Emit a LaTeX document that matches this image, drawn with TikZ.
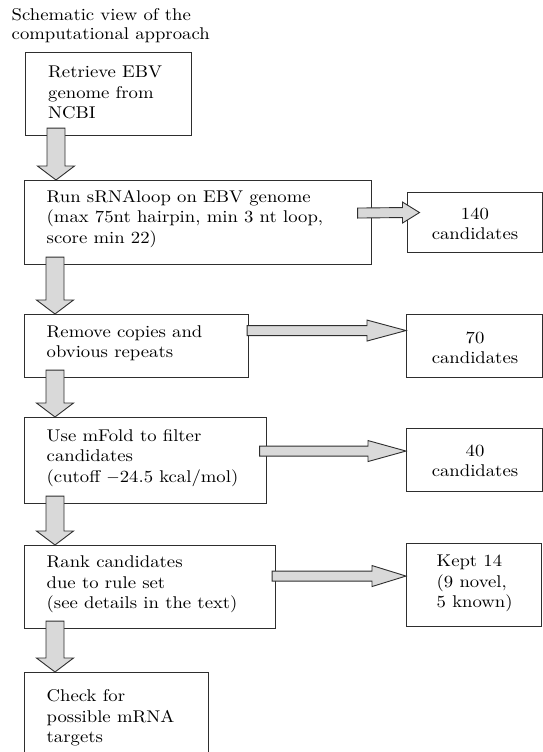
\documentclass[tikz,border=0pt]{standalone}
\usepackage{fontspec}
\setmainfont{lmroman10-regular.otf}[FakeStretch=1.1]
\usetikzlibrary{calc}
\definecolor{arrowfill}{HTML}{D9D9D9}
\definecolor{edgecol}{HTML}{2E2E2E}
\newcommand\fsz{\fontsize{17}{20.5}\selectfont}
\tikzset{
  box/.style={draw=edgecol, line width=1.1pt, inner sep=0pt, anchor=north west},
  txt/.style={inner sep=0pt, align=left, anchor=west, font=\fsz},
  ctxt/.style={inner sep=0pt, align=center, font=\fsz},
  blk/.style={draw=edgecol, fill=arrowfill, line width=0.9pt, line join=miter},
}
% down block arrow: #1 start (shaft top centre), #2 tip
\newcommand\dnblock[2]{%
  \draw[blk] ($(#1)+(-9,0)$) -- ($(#2)+(-9,-14)$) -- ($(#2)+(-18.5,-14)$) -- (#2)
    -- ($(#2)+(18.5,-14)$) -- ($(#2)+(9,-14)$) -- ($(#1)+(9,0)$) -- cycle;}
% right block arrow: #1 start (shaft left centre), #2 tip, #3 head length
\newcommand\rtblock[3]{%
  \draw[blk] ($(#1)+(0,-5)$) -- ($(#2)+(-#3,-5)$) -- ($(#2)+(-#3,-10.5)$) -- (#2)
    -- ($(#2)+(-#3,10.5)$) -- ($(#2)+(-#3,5)$) -- ($(#1)+(0,5)$) -- cycle;}
\begin{document}
\begin{tikzpicture}[x=1pt,y=-1pt]
\useasboundingbox (0,0) rectangle (543,752);
\clip (0,0) rectangle (543,752);
% title
\node[inner sep=0pt, align=left, anchor=west, font=\fontsize{17}{19}\selectfont] (title) at (11.5,25.5)
  {Schematic view of the\\computational approach};
% left boxes
\node[box, minimum width=166pt, minimum height=83pt] (b1) at (25,52) {};
\node[box, minimum width=346.5pt, minimum height=84pt] (b2) at (24,180) {};
\node[box, minimum width=224pt, minimum height=63pt] (b3) at (24,314) {};
\node[box, minimum width=242pt, minimum height=86pt] (b4) at (24,417) {};
\node[box, minimum width=251pt, minimum height=83pt] (b5) at (24,545) {};
\node[box, minimum width=183.5pt, minimum height=100pt] (b6) at (24,672) {};
% right boxes
\node[box, minimum width=135pt, minimum height=60pt] (r1) at (406.5,191.5) {};
\node[box, minimum width=135.5pt, minimum height=63.5pt] (r2) at (406,313.5) {};
\node[box, minimum width=135.5pt, minimum height=62.5pt] (r3) at (406,428) {};
\node[box, minimum width=135pt, minimum height=83pt] (r4) at (406,543) {};
% texts
\node[txt] (t1) at (48,92.5) {Retrieve EBV\\genome from\\NCBI};
\node[txt] (t2) at (46.5,219) {Run sRNAloop on EBV genome\\(max 75nt hairpin, min 3 nt loop,\\score min 22)};
\node[txt] (t3) at (46.5,343) {Remove copies and\\obvious repeats};
\node[txt] (t4) at (46.5,458) {Use mFold to filter\\candidates\\(cutoff $-$24.5 kcal/mol)};
\node[txt] (t5) at (46.5,584.5) {Rank candidates\\due to rule set\\(see details in the text)};
\node[txt] (t6) at (46.5,718) {Check for\\possible mRNA\\targets};
\node[ctxt] (u1) at (475,224) {140\\candidates};
\node[ctxt] (u2) at (475,348) {70\\candidates};
\node[ctxt] (u3) at (475,461) {40\\candidates};
\node[txt] (u4) at (436.5,583.5) {Kept 14\\(9 novel,\\5 known)};
% down arrows
\foreach \a/\b in {b1/b2, b2/b3, b3/b4, b4/b5, b5/b6}{
  \coordinate (s-\a) at ($(\a.south west)+(31,-8)$);
  \coordinate (e-\a) at (s-\a |- \b.north);
  \dnblock{s-\a}{e-\a}
}
% right arrows
\coordinate (h1s) at ($(b2.east)+(-14,-9.5)$);
\coordinate (h1e) at ($(r1.west)+(13,-9.5)$);
\rtblock{h1s}{h1e}{17}
\coordinate (h2s) at ($(b3.east)+(-2,-15.5)$);
\coordinate (h2e) at (r2.west |- h2s);
\rtblock{h2s}{h2e}{39}
\coordinate (h3s) at ($(b4.east)+(-7.5,-9.5)$);
\coordinate (h3e) at (r3.west |- h3s);
\rtblock{h3s}{h3e}{38}
\coordinate (h4s) at ($(b5.east)+(-4,-11)$);
\coordinate (h4e) at (r4.west |- h4s);
\rtblock{h4s}{h4e}{34}
\end{tikzpicture}
\end{document}
